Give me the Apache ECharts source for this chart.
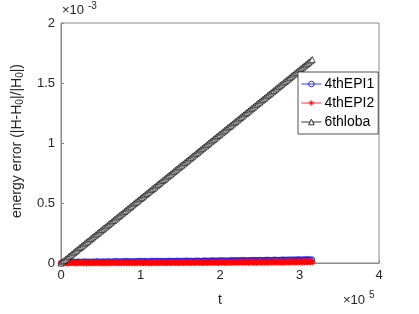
<!DOCTYPE html>
<html><head><meta charset="utf-8">
<script src="https://cdn.jsdelivr.net/npm/echarts@6/dist/echarts.min.js"></script>
<style>html,body{margin:0;padding:0;background:#fff}#c{width:419px;height:314px}</style>
</head><body><div id="c"></div>
<script>
// t in units of 1e5, errors in units of 1e-3
var tVals = [0,0.02,0.04,0.06,0.08,0.10,0.12,0.14,0.16,0.18,
0.20,0.22,0.24,0.26,0.28,0.30,0.32,0.34,0.36,0.38,
0.40,0.42,0.44,0.46,0.48,0.50,0.52,0.54,0.56,0.58,
0.60,0.62,0.64,0.66,0.68,0.70,0.72,0.74,0.76,0.78,
0.80,0.82,0.84,0.86,0.88,0.90,0.92,0.94,0.96,0.98,
1.00,1.02,1.04,1.06,1.08,1.10,1.12,1.14,1.16,1.18,
1.20,1.22,1.24,1.26,1.28,1.30,1.32,1.34,1.36,1.38,
1.40,1.42,1.44,1.46,1.48,1.50,1.52,1.54,1.56,1.58,
1.60,1.62,1.64,1.66,1.68,1.70,1.72,1.74,1.76,1.78,
1.80,1.82,1.84,1.86,1.88,1.90,1.92,1.94,1.96,1.98,
2.00,2.02,2.04,2.06,2.08,2.10,2.12,2.14,2.16,2.18,
2.20,2.22,2.24,2.26,2.28,2.30,2.32,2.34,2.36,2.38,
2.40,2.42,2.44,2.46,2.48,2.50,2.52,2.54,2.56,2.58,
2.60,2.62,2.64,2.66,2.68,2.70,2.72,2.74,2.76,2.78,
2.80,2.82,2.84,2.86,2.88,2.90,2.92,2.94,2.96,2.98,
3.00,3.02,3.04,3.06,3.08,3.10,3.12,3.14,3.16];
var epi1 = [0.000,0.006,0.010,0.008,0.012,0.007,0.011,0.013,0.009,0.012,
0.010,0.014,0.008,0.012,0.011,0.015,0.009,0.013,0.012,0.010,
0.014,0.011,0.013,0.016,0.010,0.012,0.015,0.011,0.014,0.012,
0.016,0.013,0.011,0.015,0.014,0.017,0.012,0.015,0.013,0.016,
0.014,0.018,0.013,0.016,0.015,0.012,0.017,0.014,0.016,0.019,
0.015,0.017,0.014,0.018,0.016,0.013,0.017,0.019,0.015,0.018,
0.016,0.020,0.015,0.018,0.017,0.014,0.019,0.016,0.020,0.017,
0.019,0.015,0.018,0.021,0.017,0.019,0.016,0.020,0.018,0.022,
0.017,0.020,0.019,0.016,0.021,0.018,0.022,0.019,0.017,0.021,
0.020,0.023,0.018,0.021,0.019,0.024,0.020,0.022,0.019,0.023,
0.021,0.025,0.020,0.023,0.022,0.019,0.024,0.021,0.026,0.022,
0.024,0.021,0.025,0.023,0.027,0.022,0.025,0.024,0.021,0.026,
0.023,0.027,0.024,0.026,0.022,0.028,0.025,0.023,0.027,0.026,
0.029,0.024,0.027,0.025,0.030,0.026,0.028,0.024,0.029,0.027,
0.031,0.026,0.028,0.030,0.025,0.032,0.027,0.029,0.031,0.028,
0.033,0.027,0.030,0.032,0.028,0.034,0.029,0.031,0.030];
var epi2 = [0.000,0.003,0.002,0.004,0.001,0.003,0.005,0.002,0.004,0.003,
0.001,0.004,0.003,0.005,0.002,0.004,0.001,0.003,0.005,0.002,
0.004,0.003,0.006,0.002,0.004,0.003,0.005,0.001,0.004,0.003,
0.005,0.002,0.004,0.006,0.003,0.005,0.002,0.004,0.003,0.006,
0.004,0.002,0.005,0.003,0.006,0.004,0.002,0.005,0.003,0.006,
0.003,0.005,0.004,0.007,0.003,0.005,0.004,0.002,0.006,0.004,
0.005,0.003,0.006,0.004,0.007,0.005,0.003,0.006,0.004,0.005,
0.007,0.004,0.006,0.003,0.005,0.007,0.004,0.006,0.005,0.008,
0.004,0.006,0.005,0.007,0.004,0.006,0.008,0.005,0.007,0.004,
0.006,0.008,0.005,0.007,0.006,0.004,0.008,0.006,0.007,0.005,
0.008,0.006,0.009,0.005,0.007,0.006,0.008,0.005,0.009,0.007,
0.006,0.008,0.007,0.010,0.006,0.008,0.007,0.009,0.006,0.008,
0.010,0.007,0.009,0.006,0.008,0.010,0.007,0.009,0.008,0.011,
0.007,0.009,0.008,0.010,0.007,0.011,0.009,0.008,0.010,0.007,
0.009,0.011,0.008,0.010,0.009,0.012,0.008,0.010,0.011,0.009,
0.012,0.010,0.009,0.011,0.013,0.010,0.012,0.011,0.010];
var loba6 = [0,0.011,0.021,0.032,0.043,0.054,0.064,0.075,0.086,0.097,
0.107,0.118,0.129,0.139,0.150,0.161,0.172,0.182,0.193,0.204,
0.215,0.225,0.236,0.247,0.258,0.268,0.279,0.290,0.300,0.311,
0.322,0.333,0.343,0.354,0.365,0.376,0.386,0.397,0.408,0.418,
0.429,0.440,0.451,0.461,0.472,0.483,0.494,0.504,0.515,0.526,
0.537,0.547,0.558,0.569,0.579,0.590,0.601,0.612,0.622,0.633,
0.644,0.655,0.665,0.676,0.687,0.697,0.708,0.719,0.730,0.740,
0.751,0.762,0.773,0.783,0.794,0.805,0.815,0.826,0.837,0.848,
0.858,0.869,0.880,0.891,0.901,0.912,0.923,0.934,0.944,0.955,
0.966,0.976,0.987,0.998,1.009,1.019,1.030,1.041,1.052,1.062,
1.073,1.084,1.094,1.105,1.116,1.127,1.137,1.148,1.159,1.170,
1.180,1.191,1.202,1.212,1.223,1.234,1.245,1.255,1.266,1.277,
1.288,1.298,1.309,1.320,1.331,1.341,1.352,1.363,1.373,1.384,
1.395,1.406,1.416,1.427,1.438,1.449,1.459,1.470,1.481,1.491,
1.502,1.513,1.524,1.534,1.545,1.556,1.567,1.577,1.588,1.599,
1.610,1.620,1.631,1.642,1.652,1.663,1.674,1.685,1.695];
var seriesNames = ['4thEPI1','4thEPI2','6thloba'];

function pairs(ys){ return ys.map(function(y,i){ return [tVals[i], y]; }); }
var star = 'path://M0,-10L0,10M-10,0L10,0M-7,-7L7,7M-7,7L7,-7';
var tri = 'path://M0,-10L8.7,5L-8.7,5Z';
var font = 'Liberation Sans, Arial, sans-serif';
var chart = echarts.init(document.getElementById('c'), null, {renderer:'canvas'});
var axisCol = '#262626';
var lineCol = '#8a8a8a';
chart.setOption({
  animation:false,
  backgroundColor:'#fff',
  grid:{left:61,right:40,top:23,bottom:51,show:true,borderColor:lineCol,borderWidth:1,backgroundColor:'transparent'},
  xAxis:{type:'value',min:0,max:4,interval:1,
    name:'t',nameLocation:'middle',nameGap:30,nameTextStyle:{fontFamily:font,fontSize:14,color:axisCol},
    axisLine:{show:true,lineStyle:{color:lineCol}},
    axisTick:{show:true,inside:true,length:3,lineStyle:{color:lineCol}},
    splitLine:{show:false},
    axisLabel:{fontFamily:font,fontSize:13,color:axisCol,margin:6}},
  yAxis:{type:'value',min:0,max:2,interval:0.5,
    axisLine:{show:true,lineStyle:{color:lineCol}},
    axisTick:{show:true,inside:true,length:3,lineStyle:{color:lineCol}},
    splitLine:{show:false},
    axisLabel:{fontFamily:font,fontSize:13,color:axisCol,margin:6}},
  legend:{orient:'vertical',left:298,top:72,width:81,itemGap:5,itemWidth:20,itemHeight:7,
    padding:[5,4,5,3],borderColor:'#262626',borderWidth:0.8,backgroundColor:'#fff',
    itemStyle:{borderWidth:0.8},lineStyle:{width:0.8},
    textStyle:{fontFamily:font,fontSize:14,color:'#000',padding:[0,0,0,-2]},
    data:seriesNames},
  graphic:[
    {type:'text',left:62,top:4,style:{text:'×10',fontFamily:font,fontSize:13,fill:axisCol}},
    {type:'text',left:88,top:1,style:{text:'-3',fontFamily:font,fontSize:10,fill:axisCol}},
    {type:'text',left:343,top:294,style:{text:'×10',fontFamily:font,fontSize:13,fill:axisCol}},
    {type:'text',left:369,top:290,style:{text:'5',fontFamily:font,fontSize:10,fill:axisCol}},
    {type:'text',x:17,y:141,rotation:Math.PI/2,
     style:{text:'energy error (|H-H{s|0}|/|H{s|0}|)',fontFamily:font,fontSize:14,fill:axisCol,
       align:'center',verticalAlign:'middle',
       rich:{s:{fontFamily:font,fontSize:10,fill:axisCol,verticalAlign:'bottom',padding:[6,0,0,0]}}}}
  ],
  series:[
    {name:seriesNames[0],type:'line',data:pairs(epi1),symbol:'circle',symbolSize:5,
     lineStyle:{color:'#0000ff',width:0.6},itemStyle:{color:'rgba(255,255,255,0)',borderColor:'#0000ff',borderWidth:0.8}},
    {name:seriesNames[1],type:'line',data:pairs(epi2),symbol:star,symbolSize:7,
     lineStyle:{color:'#ff0000',width:0.6},itemStyle:{color:'#ff0000',borderColor:'#ff0000',borderWidth:1.2}},
    {name:seriesNames[2],type:'line',data:pairs(loba6),symbol:tri,symbolSize:6,
     lineStyle:{color:'#000',width:0.6},itemStyle:{color:'#fff',borderColor:'#000',borderWidth:0.7}}
  ]
});
</script></body></html>
